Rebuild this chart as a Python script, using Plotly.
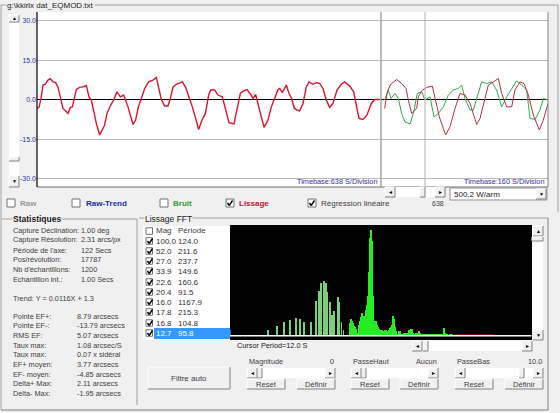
import plotly.graph_objects as go

W, H = 560, 413
BG = "#f0f0f0"
FONT = "Liberation Sans"

# ---- data ----
y_ticks = [30, 15, 0, -15, -30]
y_tick_text = ["30.0", "15.0", "0.0", "-15.0", "-30.0"]

lissage_t = [0,6,12,18,25,33,40,48,56,63,70,78,86,93,100,106,113,118,128,138,148,156,163,171,178,188,196,203,210,221,230,240,250,260,273,281,288,296,304,313,323,335,348,358,366,373,383,393,400,408,418,428,436,446,456,466,476,485,495,505,515,521,533,543,556,566,576,591,600,610,620,630,640,648,656,668,676,681,693,703,713,723,728,736,748,756,764,772,780,788,798,808,816,828,838,848,858,868,878,888,900,913,923,938,950,960,966,978,990,1003,1013,1028]
lissage_v = [-3.3,-2.9,0.5,5.6,5.9,7.5,8.0,6.8,6.5,4.7,1.1,-3.3,-4.3,-5.2,-2.9,-2.7,1.1,3.9,4.7,4.9,5.4,1.1,-0.1,-5.2,-9.0,-13.4,-11.5,-9.6,-5.2,-2.0,-0.1,3.0,1.1,1.8,-2.7,-6.5,-9.4,-7.7,-2.7,0.5,4.3,6.8,7.5,8.5,3.7,0.1,-2.4,-2.4,0.5,4.9,5.9,6.5,6.8,4.7,1.1,-2.7,-7.1,-11.3,-7.7,-5.4,1.8,3.7,3.7,1.8,1.1,-3.9,-8.7,-9.2,-3.9,2.4,3.4,3.9,2.2,0.5,2.0,-3.9,-8.4,-10.5,-7.7,-2.7,0.5,3.9,4.3,2.7,5.6,2.4,0.5,-3.3,-3.9,-4.2,-1.4,4.9,6.8,5.9,6.5,6.2,4.3,-0.1,-2.9,-1.4,3.7,5.9,6.8,5.2,3.0,-2.7,-7.1,-7.5,-5.8,-1.4,0.1,0.1]

zoom_red_t = [11,19,29,47,62,75,82,92,107,112,122,137,154,164,175,187,194,207,222,237,252,267,279,287,297,312,322,337,352,362,377,392,402,417,429,442,457,475,487,501]
zoom_red_v = [-3.3,3.0,5.9,7.7,6.2,4.3,-0.1,-5.2,-3.3,1.1,3.4,4.7,5.2,-0.1,-6.5,-10.9,-13.4,-10.3,-3.3,2.4,1.8,-1.4,-6.5,-9.4,-7.1,1.1,5.6,6.8,8.1,2.4,-2.7,-2.7,3.7,6.8,6.2,1.8,-5.8,-11.5,-7.7,-1.4]
zoom_green_t = [11,22,30,42,52,62,72,87,97,109,122,132,147,159,172,187,202,217,232,242,252,267,277,292,302,317,332,347,362,377,392,407,422,437,447,462,477,487,500]
zoom_green_v = [-0.1,3.7,0.5,2.4,0.5,-5.2,-8.4,-9.2,-5.2,2.4,3.0,-0.1,1.1,-6.5,-5.2,-2.7,1.8,3.7,4.3,5.6,0.5,-3.9,-3.9,2.4,6.8,6.2,6.8,3.7,-2.7,1.1,4.3,7.2,5.6,3.7,-7.1,-7.5,-3.9,0.5,-0.1]

fft_spike_x = [115,142,163,181,199,211,223,243,259,268,274,281,287,292,300,305,313,323,328,335,341]
fft_spike_m = [5.4,9.1,13.2,14.8,17.0,15.8,12.6,13.2,33.1,42.3,49.5,51.7,49.5,41.6,31.5,19.6,23.3,36.3,32.2,13.2,5.4]
fft_dense_x = [362,365,368,371,374,377,380,383,386,389,392,395,398,401,404,407,410,413,416,419,422,425,428,431,434,437,440,443,446,449,452,455,458,461,464,467,470,473,476,479,482,485,488,491,494,497,500,503,506,509,512,515,518,521,524,527,530,533,536,539,542,545,548,551,554,557,560,563,566,569,572,575,578,584,590,596,602,608,614,620,626,630,636,643,646,652,660,668]
fft_dense_m = [12,16,14,12,9,8,6,3,3,10,14,18,21,18,19,19,24,29,38,60,92,100,90,38,14,13,14,10,8,6,5,4,5,4,4,5,5,4,4,5,7,8,10,19,16,8,4,2,2,4,4,2,2,2,3,3,2,3,3,5,3,6,6,3,2,2,3,3,3,4,3,2,1.5,1.2,1,1,1,1,1,1,1,2,1,7,3,1,1,1]
fft_low_x = [678,690,702,714,726,738,750,762,774,786,798,810]
fft_low_m = [1,1,1,1,1,1,1,1,1,0.8,0.6,0.5]
fft_mark_x = [1]
fft_mark_m = [5]

stats_left = ["Capture Déclination:", "Capture Résolution:", "Période de l'axe:", "Pos/révolution:", "Nb d'échantillons:", "Echantillon int.:"]
stats_left_v = ["1.00 deg", "2.31 arcs/px", "122 Secs", "17787", "1200", "1.00 Secs"]
trend_text = "Trend: Y = 0.0116X + 1.3"
stats_err = ["Pointe EF+:", "Pointe EF-:", "RMS EF:", "Taux max:", "Taux max:", "EF+ moyen:", "EF- moyen:", "Delta+ Max:", "Delta- Max:"]
stats_err_v = ["8.79 arcsecs", "-13.79 arcsecs", "5.07 arcsecs", "1.08 arcsec/S", "0.07 x sidéral", "3.77 arcsecs", "-4.85 arcsecs", "2.11 arcsecs", "-1.95 arcsecs"]
fft_mag = ["100.0", "52.0", "27.0", "33.9", "22.6", "20.4", "16.0", "17.8", "16.8", "12.7"]
fft_per = ["124.0", "211.6", "237.7", "149.6", "160.6", "91.5", "1167.9", "215.3", "104.8", "95.8"]

fig = go.Figure()
fig.add_trace(go.Scatter(x=lissage_t, y=lissage_v, mode="lines", line=dict(color="#e0142c", width=1.4), xaxis="x", yaxis="y"))
fig.add_trace(go.Scatter(x=zoom_green_t, y=zoom_green_v, mode="lines", line=dict(color="#35a84a", width=1), xaxis="x2", yaxis="y2"))
fig.add_trace(go.Scatter(x=zoom_red_t, y=zoom_red_v, mode="lines", line=dict(color="#b83044", width=1), xaxis="x2", yaxis="y2"))
for xs, ms, col, wd in [(fft_spike_x, fft_spike_m, "#78d078", 2.4), (fft_dense_x, fft_dense_m, "#22ee22", 3.7),
                        (fft_low_x, fft_low_m, "#7a1010", 12), (fft_mark_x, fft_mark_m, "#2060d0", 3)]:
    fig.add_trace(go.Bar(x=xs, y=ms, width=wd, marker=dict(color=col, line=dict(width=0)), xaxis="x3", yaxis="y3"))

shapes, notes = [], []

def X(p): return p / W
def Y(p): return 1 - p / H

def rect(x0, y0, x1, y1, fill=None, line=None, lw=1, layer="below"):
    shapes.append(dict(type="rect", xref="paper", yref="paper", x0=X(x0), x1=X(x1), y0=Y(y0), y1=Y(y1),
                       fillcolor=fill or "rgba(0,0,0,0)", line=dict(color=line or "rgba(0,0,0,0)", width=lw if line else 0), layer=layer))

def seg(x0, y0, x1, y1, col="#a0a0a0", lw=1, layer="above"):
    shapes.append(dict(type="line", xref="paper", yref="paper", x0=X(x0), x1=X(x1), y0=Y(y0), y1=Y(y1),
                       line=dict(color=col, width=lw), layer=layer))

def text(x, y, s, col="#404040", size=7.3, anchor="left", bold=False, bg=None):
    notes.append(dict(xref="paper", yref="paper", x=X(x), y=Y(y), text=f"<b>{s}</b>" if bold else s, showarrow=False,
                      xanchor=anchor, yanchor="middle", font=dict(family=FONT, size=size, color=col),
                      bgcolor=bg, borderpad=0))

def button(x0, y0, x1, y1, label=None, size=7.6):
    rect(x0, y0, x1, y1, BG, None, layer="above")
    seg(x0, y0, x1, y0, "#ffffff"); seg(x0, y0, x0, y1, "#ffffff")
    seg(x0, y1, x1, y1, "#808080"); seg(x1, y0, x1, y1, "#808080")
    if label:
        text((x0 + x1) / 2, (y0 + y1) / 2, label, anchor="center", size=size)

def arrow(x, y, s):
    button(x - 5, y - 5, x + 5, y + 5)
    text(x, y, s, col="#000000", size=5, anchor="center")

def hscroll(x0, x1, y, thumb):
    rect(x0, y - 5, x1, y + 5, "#ffffff", None, layer="above")
    button(thumb, y - 5, thumb + 5, y + 5)
    arrow(x0 + 5, y, "◄"); arrow(x1 - 5, y, "►")

def check(x, y, on=True, bg="#ffffff", size=8):
    rect(x, y - size / 2, x + size, y + size / 2, bg, "#707070", layer="above")
    if on:
        seg(x + 1.5, y, x + 3.2, y + 2.5, "#000000", 1.4)
        seg(x + 3.2, y + 2.5, x + 6.5, y - 2.5, "#000000", 1.4)

# ---- frames ----
seg(1, 5, 558, 5); seg(1, 5, 1, 410); seg(558, 5, 558, 212)
text(6, 5, "g:\\kkirlx dat_EQMOD.txt", col="#202020", size=8, bg=BG)

# ---- y scrollbar ----
rect(9, 14, 19, 187, "#ffffff", None, layer="above")
button(9, 15, 19, 22); text(14, 18, "▲", col="#000000", size=5, anchor="center")
button(9, 157, 19, 161)
button(9, 176, 19, 187); text(14, 181, "▼", col="#000000", size=5, anchor="center")

# ---- checkbox row ----
check(7, 203, False); text(19, 203, "Raw", col="#9a9a9a", size=8, bold=True)
check(72, 203, False); text(85, 203, "Raw-Trend", col="#1a2ea8", size=8, bold=True)
check(160, 203, False); text(172, 203, "Bruit", col="#30a030", size=8, bold=True)
check(226, 203); text(238, 203, "Lissage", col="#c01030", size=8, bold=True)
check(308, 203); text(320, 203, "Régression linéaire", size=8)

# ---- panel labels / controls ----
seg(37, 187, 548, 187, "#707070")
seg(37, 12, 37, 187, "#000000", 1.2)
seg(381, 12, 381, 187, "#808080", 1)
seg(548, 12, 548, 187, "#808080")
seg(425, 12, 425, 187, "#b0b0b0")
text(378, 182, "Timebase:638 S/Division", col="#3030a8", anchor="right")
text(545, 182, "Timebase:160 S/Division", col="#3030a8", anchor="right")
hscroll(385, 445, 192, 420)
text(438, 203, "638", size=7, anchor="center")
rect(450, 188, 547, 200, "#ffffff", "#909090", layer="above")
text(453, 194, "500.2 W/arm", size=8, col="#202020")
arrow(541, 194, "▼")

# ---- statistics ----
seg(1, 219, 137, 219); seg(137, 219, 137, 405); seg(1, 410, 548, 410, "#808080")
text(12, 219, "Statistiques", col="#202020", size=8.5, bold=True, bg=BG)
row_y = [230, 240, 250, 259, 269, 279]
for yy, a, b in zip(row_y, stats_left, stats_left_v):
    text(12, yy, a); text(80, yy, b)
text(12, 298, trend_text)
err_y = [316, 325, 335, 345, 354, 364, 374, 383, 393]
for yy, a, b in zip(err_y, stats_err, stats_err_v):
    text(12, yy, a); text(76, yy, b)

# ---- FFT group ----
seg(139, 218, 548, 218); seg(548, 218, 548, 410, "#808080")
text(144, 219, "Lissage FFT", col="#202020", size=8.5, bg=BG)
rect(143, 226, 230, 340, "#ffffff", None)
rect(230, 225, 532, 340, "#000000", None)
rect(154, 328, 230, 339, "#3399ff", None)
list_y = [231, 241, 251, 261, 271, 282, 292, 302, 312, 323, 333]
check(146, list_y[0], False, size=6.5)
text(155, list_y[0], "Mag", size=8); text(177, list_y[0], "Période", size=8)
for i, (m, p) in enumerate(zip(fft_mag, fft_per)):
    col = "#ffffff" if i == len(fft_mag) - 1 else "#303030"
    check(146, list_y[i + 1], True, size=6.5)
    text(155, list_y[i + 1], m, col=col, size=8); text(177, list_y[i + 1], p, col=col, size=8)
button(148, 367, 230, 389, "Filtre auto", 8)

rect(532, 225, 543, 340, "#ffffff", None, layer="above")
arrow(538, 231, "▲"); arrow(538, 335, "▼"); button(532, 237, 543, 241)
text(236, 345, "Cursor Period=12.0 S", col="#202020")
hscroll(412, 532, 346, 423)

for lx, rx, name, val, thumb in [(247, 335, "Magnitude", "0", 257), (351, 438, "PasseHaut", "Aucun", 361), (455, 543, "PasseBas", "10.0", 519)]:
    text(lx + 1, 361, name); text(rx, 361, val, anchor="right")
    hscroll(lx, rx, 373, thumb)
    button(lx, 379, lx + 38, 389, "Reset")
    button(rx - 38, 379, rx, 389, "Définir")

# white baseline of the FFT display
shapes.append(dict(type="line", xref="x3 domain", yref="y3", x0=0, x1=1, y0=0, y1=0, line=dict(color="#ffffff", width=1.5), layer="above"))

grid = dict(showgrid=True, gridcolor="#b8b8b8", gridwidth=1, zeroline=True, zerolinecolor="#000000", zerolinewidth=1.1,
            range=[-33.2, 33.4], tickvals=y_ticks, fixedrange=True, showline=False, ticks="")
fig.update_layout(
    width=W, height=H, autosize=False, margin=dict(l=0, r=0, t=0, b=0), showlegend=False,
    paper_bgcolor=BG, plot_bgcolor="#ffffff", font=dict(family=FONT, size=8), barmode="overlay", bargap=0,
    xaxis=dict(domain=[37 / W, 380 / W], range=[0, 1029], visible=False),
    yaxis=dict(domain=[1 - 187 / H, 1 - 12 / H], ticktext=y_tick_text, tickfont=dict(size=7, color="#3030a8"), ticklabelstandoff=0, **grid),
    xaxis2=dict(domain=[381 / W, 548 / W], range=[0, 501], visible=False, anchor="y2"),
    yaxis2=dict(domain=[1 - 187 / H, 1 - 12 / H], anchor="x2", showticklabels=False, **grid),
    xaxis3=dict(domain=[230 / W, 531.5 / W], range=[0, 905], visible=False, anchor="y3"),
    yaxis3=dict(domain=[1 - 340 / H, 1 - 225 / H], range=[-4.1, 104.7], visible=False, anchor="x3"),
    shapes=shapes, annotations=notes,
)
fig.write_html("out.html", config=dict(displayModeBar=False), post_script="document.body.style.margin='0';document.body.style.background='#f0f0f0';")
